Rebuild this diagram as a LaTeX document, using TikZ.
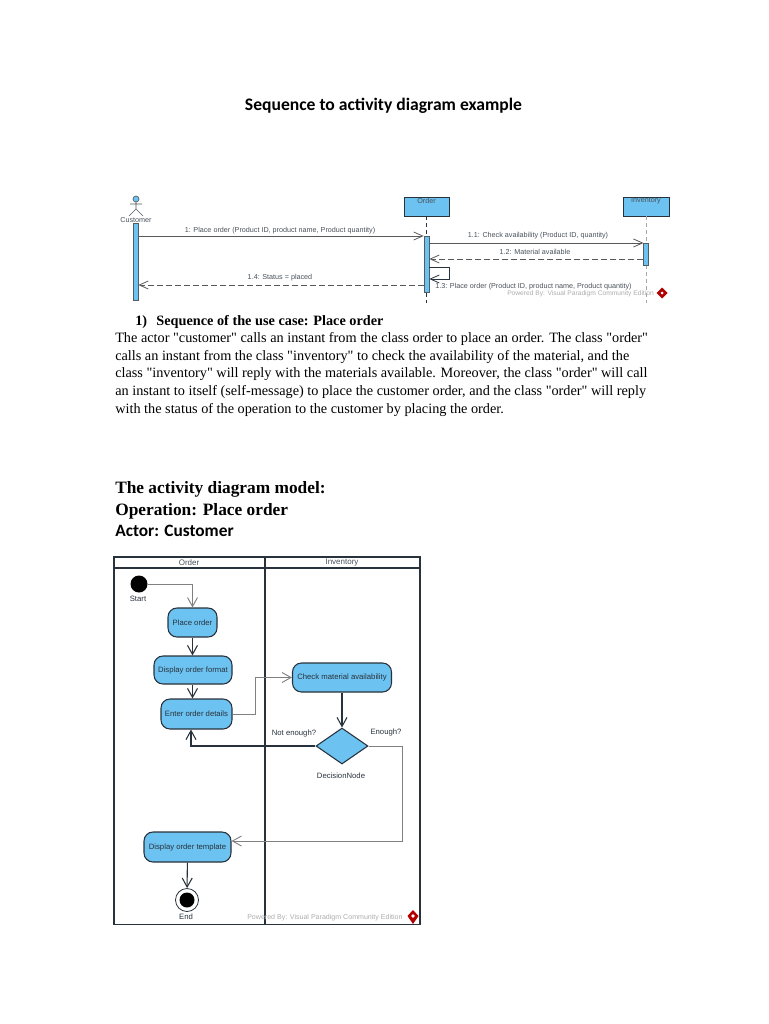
\documentclass[tikz,border=0pt]{standalone}
\usepackage{fontspec}
\setmainfont{Liberation Serif}[Ligatures=TeXOff]
\setsansfont{Liberation Sans}
\newfontfamily\carlito{Carlito}
\usepackage{xcolor}
\usetikzlibrary{arrows.meta,positioning,shapes.geometric,calc}
\definecolor{bleuciel}{RGB}{108,194,240}
\definecolor{encre}{RGB}{40,50,60}
\def\px{0.75pt}
\tikzset{
  lbl/.style={font=\sffamily\fontsize{5.4}{6.5}\selectfont, text=encre!85, inner sep=0pt},
  lblb/.style={font=\sffamily\fontsize{5.8}{7}\selectfont, text=encre, inner sep=0pt},
  wmark/.style={font=\sffamily\fontsize{5}{6}\selectfont, text=gray!65, inner sep=0pt},
  lifebox/.style={draw=encre, fill=bleuciel, line width=0.7pt, inner sep=0pt},
  actbar/.style={draw=encre!80, fill=bleuciel, line width=0.5pt, inner sep=0pt, minimum width=5*\px},
  actbox/.style={draw=encre, fill=bleuciel, line width=0.8pt, rounded corners=9*\px, inner sep=0pt, font=\sffamily\fontsize{5.8}{7}\selectfont, text=encre},
  msg/.style={draw=gray!70!black, line width=0.6pt, -{Straight Barb[length=9*\px,width=8*\px]}},
  ret/.style={msg, dashed, dash pattern=on 6*\px off 3*\px},
  flow/.style={draw=encre, line width=0.8pt, -{Straight Barb[length=9*\px,width=10*\px]}},
  flowg/.style={flow, draw=gray, line width=0.7pt},
}
\begin{document}
\begin{tikzpicture}[x=\px,y=-\px]
\useasboundingbox (0,0) rectangle (768,1024);

% headings and text
\node[font=\carlito\bfseries\fontsize{13.2}{15}\selectfont, inner sep=0pt] (title) at (383.5,106) {Sequence to activity diagram example};
\node[font=\bfseries\fontsize{10.7}{13.3}\selectfont, inner sep=0pt, anchor=west] (usecase) at (135,322) {1)\hspace{7pt}Sequence of the use case: Place order};
\node[font=\fontsize{10.7}{13.3}\selectfont, inner sep=0pt, anchor=north west, align=left] (para) at (115,332) {The actor "customer" calls an instant from the class order to place an order. The class "order"\\
calls an instant from the class "inventory" to check the availability of the material, and the\\
class "inventory" will reply with the materials available. Moreover, the class "order" will call\\
an instant to itself (self-message) to place the customer order, and the class "order" will reply\\
with the status of the operation to the customer by placing the order.};
\node[font=\bfseries\fontsize{13}{15}\selectfont, inner sep=0pt, anchor=west] (model) at (115,489) {The activity diagram model:};
\node[font=\bfseries\fontsize{13}{15}\selectfont, inner sep=0pt, anchor=west] (oper) at (115,511) {Operation: Place order};
\node[font=\carlito\bfseries\fontsize{13}{15}\selectfont, inner sep=0pt, anchor=west] (actor) at (115,531) {Actor: Customer};

% sequence diagram
\draw[draw=encre!80, line width=0.5pt, fill=bleuciel] (136,199) circle (3);
\draw[draw=encre!80, line width=0.5pt] (136,202) -- (136,209) (130,204) -- (142,204) (129,216) -- (136,209) -- (143,216);
\node[lbl] (custlbl) at (136,220) {Customer};
\node[lifebox, minimum width=45*\px, minimum height=19*\px] (order) at (426.5,206.5) {};
\node[lifebox, minimum width=46*\px, minimum height=19*\px] (inv) at (646,206.5) {};
\node[lbl] at (426.5,201) {Order};
\node[lbl] at (646,201) {Inventory};
\coordinate (orderend) at (426.5,303);
\coordinate (invend) at (646,303);
\draw[encre, line width=0.7pt, dashed, dash pattern=on 4*\px off 3*\px] (order) -- (orderend);
\draw[gray!70, line width=0.6pt, dashed, dash pattern=on 4*\px off 3*\px] (inv) -- (invend);
\node[actbar, minimum height=77*\px] (custbar) at (135.5,261.5) {};
\node[actbar, minimum height=56*\px] (orderbar) at (426.5,264) {};
\node[actbar, minimum height=22*\px] (invbar) at (646.3,254) {};

\coordinate (m1) at (0,236);
\coordinate (m2) at (0,243);
\coordinate (m3) at (0,259);
\coordinate (m4) at (0,267);
\coordinate (m5) at (0,279);
\coordinate (m6) at (0,285);
\coordinate (selfx) at (449,0);
\draw[msg] (custbar.east |- m1) -- (orderbar.west |- m1);
\draw[msg] (orderbar.east |- m2) -- (invbar.west |- m2);
\draw[ret] (invbar.west |- m3) -- (orderbar.east |- m3);
\draw[msg, draw=encre] (orderbar.east |- m4) -- (selfx |- m4) -- (selfx |- m5) -- (orderbar.east |- m5);
\draw[ret] (orderbar.west |- m6) -- (custbar.east |- m6);

\node[lbl] at (280,231) {1: Place order (Product ID, product name, Product quantity)};
\node[lbl] at (538,235.5) {1.1: Check availability (Product ID, quantity)};
\node[lbl] at (535,252) {1.2: Material available};
\node[lbl] at (280,278) {1.4: Status = placed};
\node[lbl, anchor=west] at (435,287) {1.3: Place order (Product ID, product name, Product quantity)};
\node[wmark, anchor=west] at (507,293.5) {Powered By: Visual Paradigm Community Edition};
\fill[red!70!black] (662,287.5) -- (667.5,293) -- (662,298.5) -- (656.5,293) -- cycle;
\fill[white] (662,293) circle (1.5);

% swimlanes
\draw[encre, line width=1pt] (114,557) rectangle (420,924.5);
\draw[encre, line width=1pt] (114,568) -- (420,568);
\draw[encre, line width=1.2pt] (265,557) -- (265,924.5);
\node[lbl, font=\sffamily\fontsize{6}{7}\selectfont] at (189,562.5) {Order};
\node[lbl, font=\sffamily\fontsize{6}{7}\selectfont] at (342,562.5) {Inventory};

% activities
\node[circle, fill=black, minimum size=17*\px, inner sep=0pt] (start) at (139,584) {};
\node[lblb] at (138,599) {Start};
\foreach \name/\cx/\cy/\w/\h/\label in {
  place/192.5/622.5/49/29/Place order,
  display/193/670/78/28/Display order format,
  enter/196.5/714/71/30/Enter order details,
  check/342/677.5/99/29/Check material availability,
  template/187.5/847/87/30/Display order template
} {
  \node[actbox, minimum width=\w*\px, minimum height=\h*\px] (\name) at (\cx,\cy) {\label};
}
\node[diamond, draw=encre, fill=bleuciel, line width=0.8pt, inner sep=0pt, minimum width=52*\px, minimum height=36*\px] (decision) at (342,746) {};
\node[lblb] at (294,733) {Not enough?};
\node[lblb] at (386,732) {Enough?};
\node[lblb] at (341,776) {DecisionNode};
\node[circle, draw=encre, line width=0.6pt, minimum size=23*\px, inner sep=0pt] (finish) at (187,900) {};
\fill[black] (finish.center) circle (7.5);
\node[lblb] at (186,917) {End};
\node[wmark, font=\sffamily\fontsize{5.3}{6}\selectfont, anchor=west] at (247,917.5) {Powered By: Visual Paradigm Community Edition};
\fill[red!70!black] (413,910) -- (418.5,916) -- (413,924) -- (407.5,916) -- cycle;
\fill[white] (413,916) circle (1.8);

\coordinate (elbow) at (255,0);
\coordinate (farx) at (402,0);
\coordinate (upx) at (191,0);
\draw[flowg] (start) -| (place.north);
\draw[flow] (place) -- (place |- display.north);
\draw[flow] (place |- display.south) -- (place |- enter.north);
\draw[flowg] (enter.east) -- (elbow |- enter.east) -- (elbow |- check.west) -- (check.west);
\draw[flow] (check) -- (decision);
\draw[flow] (decision.west) -- (upx |- decision.west) -- (upx |- enter.south);
\draw[flowg] (decision.east) -- (farx |- decision.east) -- (farx |- 0,841) -- (template.east |- 0,841);
\draw[flow] (template) -- (finish);
\end{tikzpicture}
\end{document}
